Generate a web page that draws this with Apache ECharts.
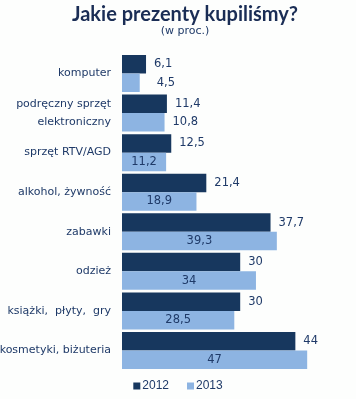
<!DOCTYPE html>
<html>
<head>
<meta charset="utf-8">
<script src="https://cdn.jsdelivr.net/npm/echarts@6/dist/echarts.min.js"></script>
<style>
html,body{margin:0;padding:0;background:#fdfefd;}
#c{width:356px;height:399px;}
</style>
</head>
<body>
<div id="c"></div>
<script>
const categories = ['komputer', 'podręczny sprzęt\nelektroniczny', 'sprzęt RTV/AGD', 'alkohol, żywność', 'zabawki', 'odzież', 'książki,  płyty,  gry', 'kosmetyki, biżuteria'];
const values2012 = [6.1, 11.4, 12.5, 21.4, 37.7, 30, 30, 44];
const values2013 = [4.5, 10.8, 11.2, 18.9, 39.3, 34, 28.5, 47];
const seriesNames = ['2012', '2013'];
// label placement for 2013 values (outside right vs centered inside)
const labelPos2013 = ['right', 'right', 'inside', 'inside', 'inside', 'inside', 'inside', 'inside'];
const labelDist2013 = [17, 8, 5, 5, 5, 5, 5, 5];

const fmt = v => String(v).replace('.', ',');
const txt = '#1f3a68';

const chart = echarts.init(document.getElementById('c'), null, {renderer: 'canvas'});
chart.setOption({
  backgroundColor: '#fdfefd',
  animation: false,
  title: {
    text: 'Jakie prezenty kupiliśmy?',
    subtext: '(w proc.)',
    left: 180, textAlign: 'center', top: 0,
    itemGap: 1,
    textStyle: {fontFamily: 'Lato', fontWeight: 'bold', fontSize: 20, color: '#1a2d55'},
    subtextStyle: {fontFamily: 'DejaVu Sans', fontSize: 11, color: txt}
  },
  legend: {
    bottom: 2, left: 'center',
    itemWidth: 7, itemHeight: 7, itemGap: 18,
    icon: 'rect',
    textStyle: {fontFamily: 'Liberation Sans', fontSize: 12, color: txt, padding: [0, 0, 0, -3]},
    data: seriesNames
  },
  grid: {left: 122, right: 37, top: 53.7, bottom: 28.7, containLabel: false, outerBoundsMode: 'none'},
  xAxis: {type: 'value', min: 0, max: 50, show: false},
  yAxis: {
    type: 'category', data: categories, inverse: true,
    axisLine: {show: false}, axisTick: {show: false},
    axisLabel: {margin: 11, fontFamily: 'DejaVu Sans', fontSize: 11, color: txt, lineHeight: 18}
  },
  series: [
    {
      name: seriesNames[0], type: 'bar', data: values2012,
      barGap: '0%', barCategoryGap: '6.5%',
      itemStyle: {color: '#17375e'},
      label: {show: true, position: 'right', distance: 8, formatter: p => fmt(p.value), fontFamily: 'DejaVu Sans', fontSize: 11.5, color: txt}
    },
    {
      name: seriesNames[1], type: 'bar',
      data: values2013.map((v, i) => ({value: v, label: {position: labelPos2013[i], distance: labelDist2013[i]}})),
      barGap: '0%', barCategoryGap: '6.5%',
      itemStyle: {color: '#8db4e2'},
      label: {show: true, formatter: p => fmt(p.value), fontFamily: 'DejaVu Sans', fontSize: 11.5, color: txt}
    }
  ]
});
</script>
</body>
</html>
